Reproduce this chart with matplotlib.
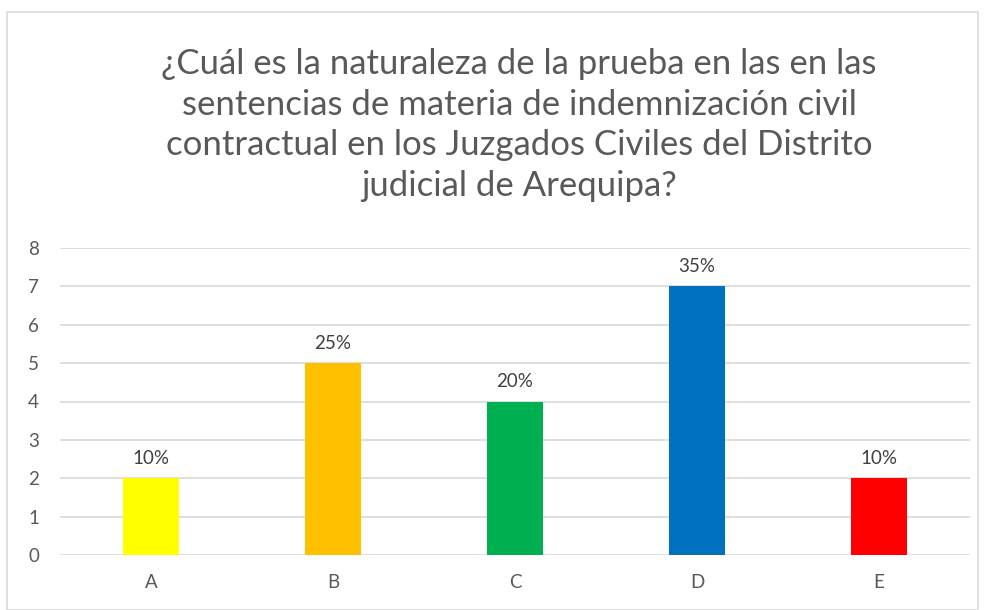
import matplotlib
matplotlib.use('Agg')
import matplotlib.pyplot as plt

categorias = ['A', 'B', 'C', 'D', 'E']
valores = [2, 5, 4, 7, 2]
porcentajes = ['10%', '25%', '20%', '35%', '10%']
colores = ['#FFFF00', '#FFC000', '#00B050', '#0070C0', '#FF0000']
titulo = ('¿Cuál es la naturaleza de la prueba en las en las\n'
          'sentencias de materia de indemnización civil\n'
          'contractual en los Juzgados Civiles del Distrito\n'
          'judicial de Arequipa?')

plt.rcParams['font.family'] = ['Lato', 'DejaVu Sans']

fig = plt.figure(figsize=(9.85, 6.10), dpi=100)
ax = fig.add_axes([60/985, 1-555/610, 910/985, 307/610])

# borde del grafico
fig.patches.append(plt.Rectangle((7/985, 0.0), 971/985, 1-12/610, transform=fig.transFigure,
                                 fill=False, edgecolor='#D9D9D9', linewidth=1.2))

x = range(len(categorias))
ax.bar(x, valores, width=0.31, color=colores, zorder=3)
for i, v in enumerate(valores):
    ax.text(i, v + 0.3, porcentajes[i], ha='center', va='bottom', fontsize=13.5, color='#404040')

ax.set_xlim(-0.5, 4.5)
ax.set_ylim(0, 8)
ax.set_yticks(range(0, 9))
ax.set_xticks(list(x))
ax.set_xticklabels(categorias)
ax.grid(axis='y', color='#D9D9D9', linewidth=1.2, zorder=0)
for s in ax.spines.values():
    s.set_visible(False)
ax.tick_params(length=0, labelsize=13.5, labelcolor='#595959')
ax.tick_params(axis='y', pad=23)
ax.tick_params(axis='x', pad=14)
for lbl in ax.get_yticklabels():
    lbl.set_horizontalalignment('left')

fig.text(519/985, 1-125/610, titulo, ha='center', va='center', fontsize=25,
         color='#595959', linespacing=1.33)

fig.savefig('out.png', dpi=100)
